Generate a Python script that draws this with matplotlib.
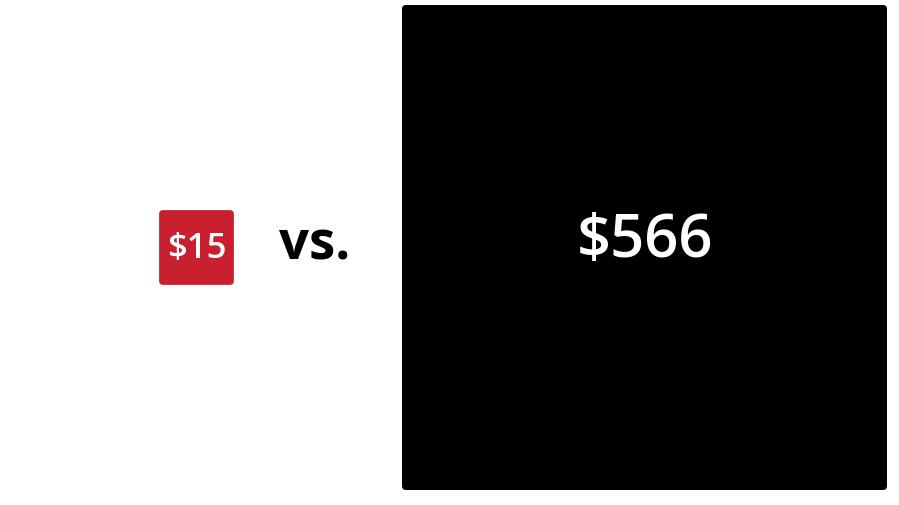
import numpy as np
import matplotlib
matplotlib.use("Agg")
import matplotlib.pyplot as plt
from matplotlib.patches import FancyBboxPatch

labels = ["$15", "$566"]
values = [15, 566]
colors = ["#C8202F", "#000000"]
separator = "vs."

W, H = 899, 506
fig = plt.figure(figsize=(W / 100, H / 100), dpi=100)
ax = fig.add_axes([0, 0, 1, 1])
ax.set_xlim(0, W)
ax.set_ylim(H, 0)
ax.axis("off")

max_side = 490.0
scale = max_side / np.sqrt(max(values))
centers_x = [196.5, 644.5]
center_y = 248.5
inset = 2.5
font_sizes = [25, 43]
text_dy = [0, -7]

for lab, v, c, cx, fs, dy in zip(labels, values, colors, centers_x, font_sizes, text_dy):
    side = scale * np.sqrt(v) - 2 * inset
    p = FancyBboxPatch((cx - side / 2, center_y - side / 2), side, side,
                       boxstyle="round,pad=0,rounding_size=4",
                       facecolor=c, edgecolor="none")
    ax.add_patch(p)
    ax.text(cx, center_y + dy, lab, color="white",
            fontsize=fs, ha="center", va="center", family="Open Sans",
            fontweight="semibold")

ax.text(315, 246, separator, fontsize=38, fontweight="bold", family="Open Sans",
        ha="center", va="center", color="black")

fig.savefig("out.png", dpi=100)
